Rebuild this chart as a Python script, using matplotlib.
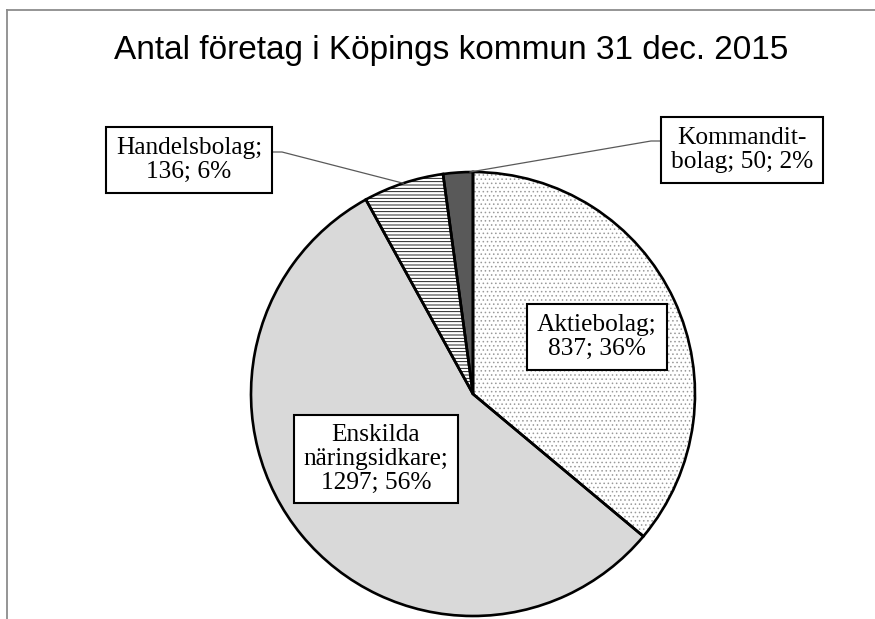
import matplotlib
matplotlib.use("Agg")
import matplotlib.pyplot as plt
import numpy as np

# data
categories = ["Aktiebolag", "Enskilda näringsidkare", "Handelsbolag", "Kommanditbolag"]
counts = [837, 1297, 136, 50]
label_lines = ["Aktiebolag;\n837; 36%",
               "Enskilda\nnäringsidkare;\n1297; 56%",
               "Handelsbolag;\n136; 6%",
               "Kommandit-\nbolag; 50; 2%"]

W, H = 875, 619
plt.rcParams["hatch.linewidth"] = 0.6

fig = plt.figure(figsize=(W / 100, H / 100), dpi=100)
ax = fig.add_axes([0, 0, 1, 1])

def Y(y):
    # pixel row -> data y (axis runs upwards)
    return H - y

center = (473, Y(394))
radius = 222

faces = ["white", "#d9d9d9", "white", "#595959"]
hatches = ["....", None, "-----", None]
hatch_cols = ["#9a9a9a", "#d9d9d9", "black", "#595959"]

# fills + hatching
wedges, _ = ax.pie(counts, startangle=90, counterclock=False,
                   center=center, radius=radius,
                   wedgeprops=dict(linewidth=0))
for w, fc, h, hc in zip(wedges, faces, hatches, hatch_cols):
    w.set_facecolor(fc)
    w.set_edgecolor(hc)
    if h:
        w.set_hatch(h)

# black outlines on top
ax.pie(counts, startangle=90, counterclock=False, center=center, radius=radius,
       colors=["none"] * 4,
       wedgeprops=dict(linewidth=1.9, edgecolor="black", joinstyle="miter"))

ax.set_xlim(0, W)
ax.set_ylim(0, H)
ax.axis("off")

# title
ax.text(451, Y(50), "Antal företag i Köpings kommun 31 dec. 2015",
        ha="center", va="center", fontsize=24, family="Liberation Sans")

# data labels
label_pos = [(597, 337), (376, 459), (189, 160), (742, 150)]
for (x, y), txt in zip(label_pos, label_lines):
    ax.text(x, Y(y), txt, ha="center", va="center", fontsize=18.3,
            family="Liberation Serif", linespacing=1.1, zorder=5,
            bbox=dict(boxstyle="square,pad=0.38", fc="white", ec="black", lw=1.5))

# leader lines
def edge_point(w, frac):
    a = np.deg2rad(w.theta1 + frac * (w.theta2 - w.theta1))
    return center[0] + radius * np.cos(a), center[1] + radius * np.sin(a)

hx, hy = edge_point(wedges[2], 0.5)
ax.plot([272, 282, hx], [Y(152), Y(152), hy], color="#595959", lw=0.9, zorder=4)
kx, ky = edge_point(wedges[3], 0.1)
ax.plot([661, 651, kx], [Y(141), Y(141), ky], color="#595959", lw=0.9, zorder=4)

# chart area frame (cropped on the right and bottom)
fig.add_artist(plt.Line2D([7 / W, 1], [1 - 10 / H, 1 - 10 / H], color="#8c8c8c", lw=1.3))
fig.add_artist(plt.Line2D([7 / W, 7 / W], [0, 1 - 10 / H], color="#8c8c8c", lw=1.3))

fig.savefig("out.png", dpi=100)
